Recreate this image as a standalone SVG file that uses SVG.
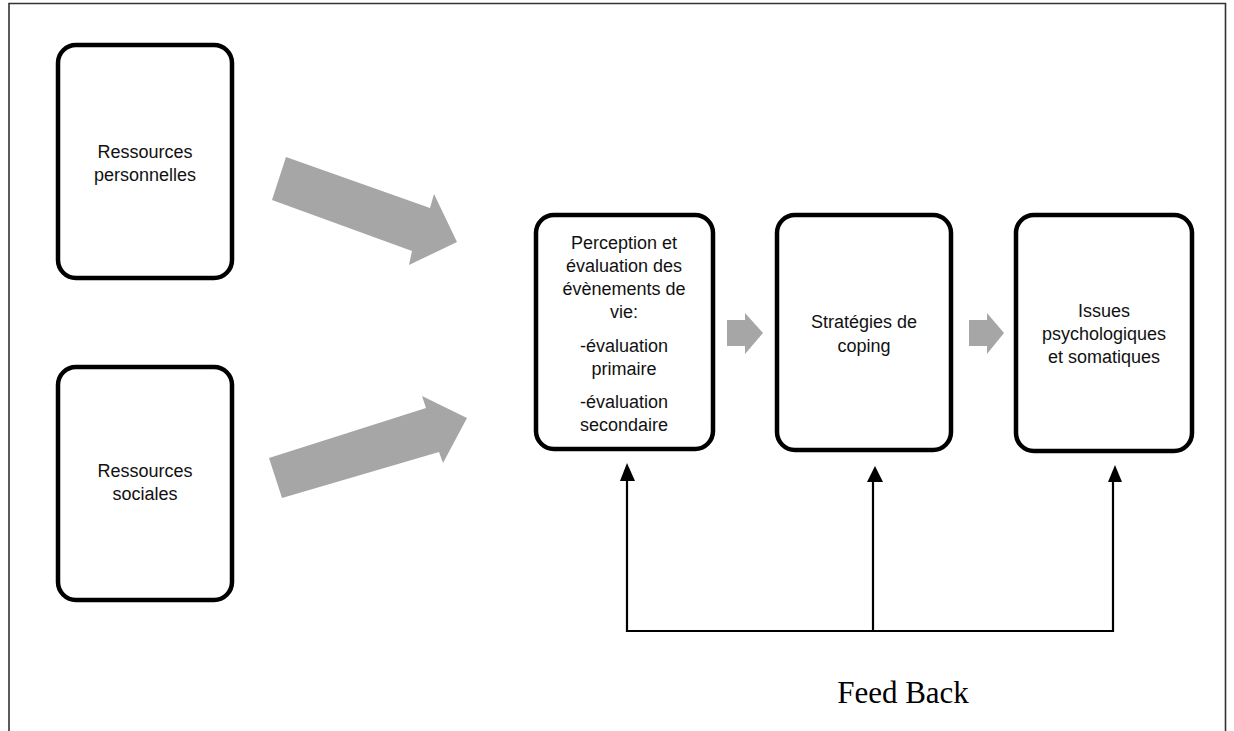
<svg xmlns="http://www.w3.org/2000/svg" width="1234" height="731" viewBox="0 0 1234 731">
<style>
.box{fill:#fff;stroke:#000;stroke-width:4.5}
.t{font-family:"Liberation Sans",Arial,sans-serif;font-size:18px;fill:#111;text-anchor:middle}
.g{fill:#a6a6a6}
.fb{stroke:#000;stroke-width:2.2;fill:none}
</style>
<path d="M9,731 V3.5 H1225.5 V731" fill="none" stroke="#333" stroke-width="1.6"/>
<g id="n1"><rect class="box" x="58" y="45" width="174" height="233" rx="18"/>
<text class="t" x="145" y="158">Ressources</text><text class="t" x="145" y="181">personnelles</text></g>
<g id="n2"><rect class="box" x="58" y="367" width="174" height="233" rx="18"/>
<text class="t" x="145" y="477">Ressources</text><text class="t" x="145" y="500">sociales</text></g>
<g id="n3"><rect class="box" x="536" y="215" width="177" height="234" rx="18"/>
<text class="t" x="624" y="249">Perception et</text>
<text class="t" x="624" y="272">évaluation des</text>
<text class="t" x="624" y="295">évènements de</text>
<text class="t" x="624" y="318">vie:</text>
<text class="t" x="624" y="352">-évaluation</text>
<text class="t" x="624" y="375">primaire</text>
<text class="t" x="624" y="408">-évaluation</text>
<text class="t" x="624" y="431">secondaire</text></g>
<g id="n4"><rect class="box" x="777" y="215" width="174" height="235" rx="18"/>
<text class="t" x="864" y="328">Stratégies de</text><text class="t" x="864" y="352">coping</text></g>
<g id="n5"><rect class="box" x="1016" y="215" width="176" height="236" rx="18"/>
<text class="t" x="1104" y="317">Issues</text><text class="t" x="1104" y="340">psychologiques</text><text class="t" x="1104" y="363">et somatiques</text></g>
<g id="connectors">
<polygon class="g" points="286,157 430,208 434,194 457,242 409,265 412,251 272,200"/>
<polygon class="g" points="269,458 426,408 422,396 467,418 443,463 439,452 282,498"/>
<polygon class="g" points="727,320 745,320 745,313 763,333 745,354 745,346 727,346"/>
<polygon class="g" points="969,320 987,320 987,313 1004,333 987,354 987,346 969,346"/>
<path class="fb" d="M627,632 V478 M873,632 V480 M1113,632 V480 M627,631 H1114"/>
<polygon points="627,463 620,481 635,481"/>
<polygon points="875,466 867,482 883,482"/>
<polygon points="1115,465 1108,482 1122,482"/>
</g>
<text x="903" y="703" font-family="Liberation Serif,'Times New Roman',serif" font-size="31" text-anchor="middle">Feed Back</text>
</svg>
